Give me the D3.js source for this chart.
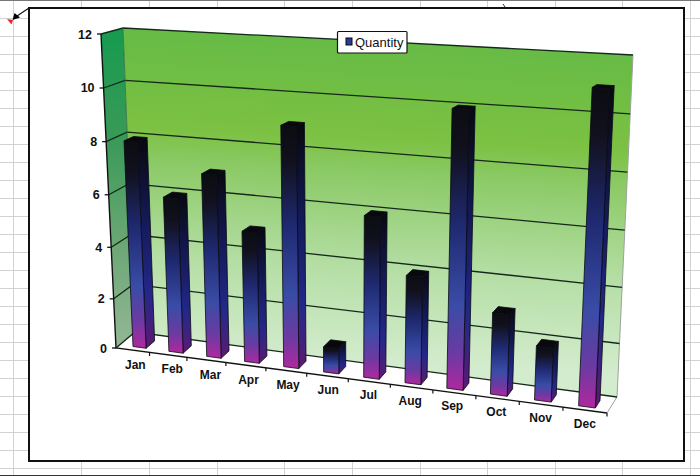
<!DOCTYPE html>
<html><head><meta charset="utf-8">
<script src="https://cdn.jsdelivr.net/npm/d3@7"></script>
<style>html,body{margin:0;padding:0;background:#fff}svg{display:block}text{font-family:"Liberation Sans",Arial,sans-serif}</style>
</head><body><svg id="c" width="700" height="476"></svg>
<script>
const months = ["Jan","Feb","Mar","Apr","May","Jun","Jul","Aug","Sep","Oct","Nov","Dec"];
const quantity = [8,6,7,5,9,1,6,4,10,3,2,11];
const yTicks = [0,2,4,6,8,10,12];
const seriesName = "Quantity";
const sheetCols = [13,81,149,217,284,352,420,487,555,622,690];
const sheetRows = d3.range(18,469,18);

const svg = d3.select("#c");
const defs = svg.append("defs");

// Perspective box: u along categories, v up, w into depth (unit cube corners on screen)
const corners = {
  fbl:[116,348], fbr:[607,413], ftl:[101,34], ftr:[624,60],
  bbl:[135,332], bbr:[617,397], btl:[123,28], btr:[633,55]
};
const lerp = (a,b,t)=>[a[0]+(b[0]-a[0])*t, a[1]+(b[1]-a[1])*t];
function project(u,v,w){
  const c=corners;
  const fb=lerp(c.fbl,c.fbr,u), ft=lerp(c.ftl,c.ftr,u), bb=lerp(c.bbl,c.bbr,u), bt=lerp(c.btl,c.btr,u);
  return lerp(lerp(fb,ft,v),lerp(bb,bt,v),w);
}
const band = d3.scaleBand().domain(months).range([0,1]);
const barBand = d3.scaleBand().domain(months).range([.008,1]);
const uWarp = d3.scalePow().exponent(1.08).domain([0,1]).range([0,1]);
const barWarp = d3.scaleLinear()
  .domain([0,.0494,.132,.2143,.2974,.3806,.4625,.5451,.6278,.7104,1])
  .range([0,.0395,.1146,.192,.27,.351,.432,.514,.599,.6843,1]);
const vScale = d3.scalePow().exponent(1.035).domain([0,12]).range([0,1]);
const P = (u,val,w)=>project(uWarp(u),vScale(val),w);
const B = (u,val,w)=>project(barWarp(u),vScale(val),w);
const pathOf = pts=>"M"+pts.map(p=>p[0].toFixed(1)+","+p[1].toFixed(1)).join("L")+"Z";
const lineOf = pts=>"M"+pts.map(p=>p[0].toFixed(1)+","+p[1].toFixed(1)).join("L");

// spreadsheet background
const sheet = svg.append("g").attr("stroke","#d2d2d2").attr("stroke-width",1);
sheetCols.forEach(x=>sheet.append("line").attr("x1",x+.5).attr("x2",x+.5).attr("y1",0).attr("y2",476));
sheetRows.forEach(y=>sheet.append("line").attr("x1",0).attr("x2",700).attr("y1",y+.5).attr("y2",y+.5));
svg.append("line").attr("x1",0).attr("x2",700).attr("y1",475.5).attr("y2",475.5).attr("stroke","#333");
svg.append("line").attr("x1",0).attr("x2",700).attr("y1",.5).attr("y2",.5).attr("stroke","#777");
svg.append("rect").attr("x",29).attr("y",8).attr("width",655).attr("height",453).attr("fill","#fff").attr("stroke","#111").attr("stroke-width",2);
svg.append("line").attr("x1",29).attr("y1",8).attr("x2",17).attr("y2",16).attr("stroke","#111").attr("stroke-width",1.2);
svg.append("path").attr("d","M12.5,20L14.5,13L20,17.5Z").attr("fill","#000");
svg.append("path").attr("d","M7,19L13,20L11.5,24.5Z").attr("fill","#e8262a");
svg.append("line").attr("x1",503).attr("y1",4).attr("x2",505).attr("y2",7).attr("stroke","#333");

// gradients
function grad(id,stops,coords){
  const g=defs.append("linearGradient").attr("id",id);
  if(coords) g.attr("gradientUnits","userSpaceOnUse").attr("x1",coords[0][0]).attr("y1",coords[0][1]).attr("x2",coords[1][0]).attr("y2",coords[1][1]);
  else g.attr("x1",0).attr("y1",0).attr("x2",0).attr("y2",1);
  stops.forEach(s=>g.append("stop").attr("offset",s[0]).attr("stop-color",s[1]));
}
const topMid=P(.5,12,1), botMid=P(.5,0,1);
grad("wall",[[0,"#66bb46"],[.3,"#7cc142"],[.4,"#8ac964"],[.7,"#b4dea4"],[1,"#d4ecce"]],[topMid,[botMid[0]-14,botMid[1]]]);
grad("side",[[0,"#169a50"],[.35,"#3a9a58"],[.7,"#6fa878"],[1,"#93b795"]]);
grad("barFront",[[0,"#0c0c12"],[.15,"#11111e"],[.42,"#1f2a72"],[.7,"#3a4ca6"],[.87,"#6b3aa2"],[1,"#b0289f"]]);
grad("barSide",[[0,"#08080e"],[.4,"#141a58"],[.75,"#24288a"],[1,"#5c1a72"]]);

// walls and floor
const wallG=svg.append("g");
wallG.append("path").attr("d",pathOf([P(0,0,0),P(1,0,0),P(1,0,1),P(0,0,1)])).attr("fill","#fff");
wallG.append("path").attr("d",pathOf([P(0,0,0),P(0,12,0),P(0,12,1),P(0,0,1)])).attr("fill","url(#side)");
wallG.append("path").attr("d",pathOf([P(0,0,1),P(0,12,1),P(1,12,1),P(1,0,1)])).attr("fill","url(#wall)");

// right edge and front floor edge
wallG.append("path").attr("d",lineOf([P(1,12,1),P(1,0,1),P(1,0,0)])).attr("fill","none").attr("stroke","#9aa39a").attr("stroke-width",1);

// gridlines
yTicks.forEach(t=>{
  wallG.append("path").attr("d",lineOf([P(0,t,0),P(0,t,1),P(1,t,1)])).attr("fill","none").attr("stroke","#16281a").attr("stroke-width",1.3);
});
// y axis line and ticks
wallG.append("path").attr("d",lineOf([P(0,12,0),P(0,0,0),P(1,0,0)])).attr("fill","none").attr("stroke","#111").attr("stroke-width",1.4);
wallG.append("path").attr("d",lineOf([P(0,12,1),P(0,0,1)])).attr("fill","none").attr("stroke","#2e6b3e").attr("stroke-width",.8);

const axisG=svg.append("g");
yTicks.forEach(t=>{
  const p=P(0,t,0);
  axisG.append("line").attr("x1",p[0]-4).attr("x2",p[0]).attr("y1",p[1]).attr("y2",p[1]).attr("stroke","#111").attr("stroke-width",1.3);
  axisG.append("text").attr("x",p[0]-9).attr("y",p[1]+4.5).attr("text-anchor","end").attr("font-size",12.5).attr("font-weight","bold").attr("fill","#111").text(t);
});
months.forEach(m=>{
  const e=band(m)+band.bandwidth();
  const p=P(e,0,0);
  axisG.append("line").attr("x1",p[0]).attr("x2",p[0]).attr("y1",p[1]).attr("y2",p[1]+3.5).attr("stroke","#111").attr("stroke-width",1.2);
  const c=B(barBand(m)+barBand.bandwidth()/2,0,0);
  axisG.append("text").attr("x",c[0]).attr("y",c[1]+18).attr("text-anchor","middle").attr("font-size",12).attr("font-weight","bold").attr("fill","#111").text(m);
});

// bars
const inset=.31*barBand.bandwidth(), w0=.2, w1=.66;
const barG=svg.append("g");
months.forEach((m,i)=>{
  const a=barBand(m)+inset, b=barBand(m)+barBand.bandwidth()-inset, q=quantity[i];
  const g=barG.append("g").attr("stroke","#0a0a14").attr("stroke-width",.8).attr("stroke-linejoin","round");
  g.append("path").attr("d",pathOf([B(b,0,w0),B(b,q,w0),B(b,q,w1),B(b,0,w1)])).attr("fill","url(#barSide)");
  g.append("path").attr("d",pathOf([B(a,q,w0),B(a,q,w1),B(b,q,w1),B(b,q,w0)])).attr("fill","#08080d");
  g.append("path").attr("d",pathOf([B(a,0,w0),B(a,q,w0),B(b,q,w0),B(b,0,w0)])).attr("fill","url(#barFront)");
});

// legend
const lg=svg.append("g");
lg.append("rect").attr("x",337.5).attr("y",31.5).attr("width",69.5).attr("height",21.5).attr("rx",1).attr("fill","#fff").attr("stroke","#111").attr("stroke-width",1.2);
lg.append("rect").attr("x",346).attr("y",38).attr("width",6).attr("height",7).attr("fill","#2a3a96").attr("stroke","#0a0a14").attr("stroke-width",1);
lg.append("text").attr("x",355).attr("y",47).attr("font-size",13).attr("fill","#111").text(seriesName);
</script></body></html>
